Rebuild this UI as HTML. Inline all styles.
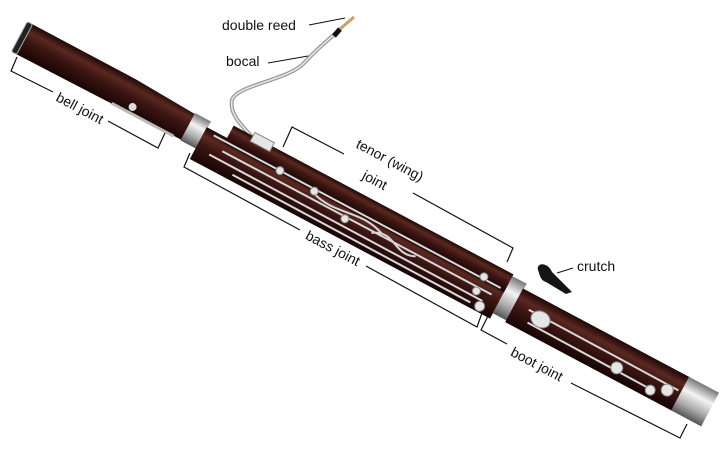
<!DOCTYPE html>
<html><head><meta charset="utf-8"><style>
html,body{margin:0;padding:0;background:#fff;width:727px;height:450px;overflow:hidden}
svg{display:block}
text{font-family:"Liberation Sans",sans-serif;font-size:14px;fill:#111}
</style></head><body>
<svg width="727" height="450" viewBox="0 0 727 450">
<defs>
<linearGradient id="wood" x1="0" y1="0" x2="0" y2="1">
<stop offset="0" stop-color="#1e0806"/><stop offset="0.25" stop-color="#5a2820"/><stop offset="0.5" stop-color="#3c1612"/><stop offset="1" stop-color="#160504"/>
</linearGradient>
<linearGradient id="silver" x1="0" y1="0" x2="0" y2="1">
<stop offset="0" stop-color="#777"/><stop offset="0.35" stop-color="#f4f4f4"/><stop offset="0.7" stop-color="#aaa"/><stop offset="1" stop-color="#555"/>
</linearGradient>
</defs>
<path d="M262,150 C255,135 228,120 232,100 C236,85 290,80 305,62 C318,48 328,40 336,33" fill="none" stroke="#999" stroke-width="4"/>
<path d="M262,150 C255,135 228,120 232,100 C236,85 290,80 305,62 C318,48 328,40 336,33" fill="none" stroke="#e8e8e8" stroke-width="1.5"/>
<line x1="334" y1="36" x2="340" y2="29" stroke="#111" stroke-width="5"/>
<line x1="340" y1="29" x2="354" y2="17" stroke="#c9a060" stroke-width="3"/>
<g transform="translate(22,38) rotate(28)">
  <path d="M0,-17 L120,-17 L190,-14 L190,15 L0,17 Z" fill="url(#wood)"/>
  <rect x="-3" y="-17" width="6" height="34" rx="2" fill="#222" stroke="#aaa"/>
  <rect x="110" y="14" width="70" height="3" fill="#bbb"/>
  <circle cx="130" cy="9" r="4" fill="#ddd"/>
  <rect x="188" y="-15" width="18" height="31" fill="url(#silver)"/>
  <rect x="205" y="-8" width="340" height="36" fill="url(#wood)"/>
  <rect x="228" y="-22" width="317" height="20" fill="url(#wood)"/>
  <rect x="545" y="-20" width="16" height="42" fill="url(#silver)"/>
  <rect x="560" y="-14" width="190" height="38" fill="url(#wood)"/>
  <rect x="748" y="-14" width="34" height="38" fill="url(#silver)"/>
  <g stroke="#d8d8d8" stroke-width="2" fill="none">
    <line x1="215" y1="-4" x2="540" y2="-4"/>
    <line x1="230" y1="6" x2="535" y2="6"/>
    <line x1="220" y1="15" x2="530" y2="16"/>
    <line x1="250" y1="22" x2="520" y2="23"/>
    <path d="M330,0 C360,10 380,-8 410,4"/>
    <path d="M400,8 C420,-6 430,18 450,8"/>
    <line x1="575" y1="2" x2="745" y2="3"/>
    <line x1="580" y1="14" x2="720" y2="15"/>
  </g>
  <g fill="#e6e6e6" stroke="#888">
    <circle cx="290" cy="-4" r="4"/><circle cx="330" cy="-2" r="4"/><circle cx="370" cy="8" r="4"/><circle cx="520" cy="-6" r="4"/><circle cx="520" cy="10" r="4"/><circle cx="530" cy="22" r="5"/>
    <rect x="250" y="-26" width="22" height="10"/>
    <ellipse cx="590" cy="5" rx="10" ry="8"/>
    <circle cx="680" cy="12" r="6"/><circle cx="735" cy="8" r="6"/><circle cx="720" cy="16" r="5"/>
  </g>
</g>
<path d="M538,270 C536,262 548,262 552,272 L572,292 L566,294 L546,282 C540,280 540,275 538,270 Z" fill="#151515"/>
<text x="222" y="30">double reed</text>
<line x1="309" y1="25" x2="345" y2="18" stroke="#111"/>
<text x="226" y="66">bocal</text>
<line x1="268" y1="63" x2="308" y2="56" stroke="#111"/>
<text x="577" y="271">crutch</text>
<line x1="557" y1="273" x2="573" y2="268" stroke="#111"/>
<g stroke="#111" stroke-width="1.2" fill="none">
  <polyline points="17,57 11,71 53,92"/>
  <polyline points="108,121 158,148 165,133"/>
  <polyline points="283,147 292,127 344,154"/>
  <polyline points="413,193 513,248 507,262"/>
  <polyline points="190,153 184,167 300,230"/>
  <polyline points="366,266 477,327 482,313"/>
  <polyline points="488,316 481,330 507,344"/>
  <polyline points="571,383 680,438 687,424"/>
</g>
<text transform="translate(80,108) rotate(28)" text-anchor="middle" dy="5">bell joint</text>
<text transform="translate(390,160) rotate(28)" text-anchor="middle" dy="5">tenor (wing)</text>
<text transform="translate(375,180) rotate(28)" text-anchor="middle" dy="5">joint</text>
<text transform="translate(333,248) rotate(28)" text-anchor="middle" dy="5">bass joint</text>
<text transform="translate(537,364) rotate(28)" text-anchor="middle" dy="5">boot joint</text>
</svg>
</body></html>
